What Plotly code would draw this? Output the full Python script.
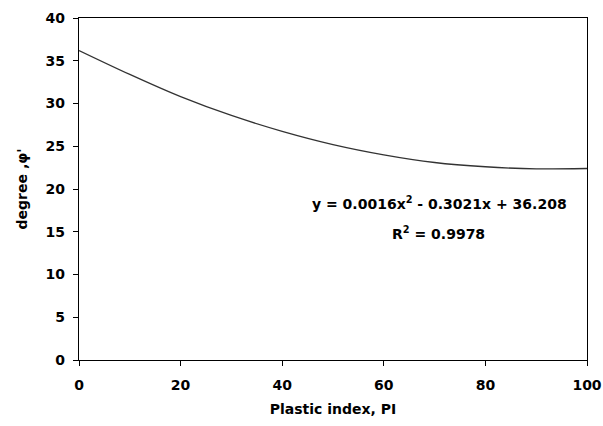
import plotly.graph_objects as go

plastic_index = [0, 10, 20, 30, 40, 50, 60, 70, 80, 90, 100]
phi_degree = [36.2, 33.4, 30.8, 28.6, 26.75, 25.2, 24.0, 23.1, 22.6, 22.35, 22.4]
x_ticks = [0, 20, 40, 60, 80, 100]
y_ticks = [0, 5, 10, 15, 20, 25, 30, 35, 40]
equation_line = "<b>y = 0.0016x<sup>2</sup> - 0.3021x + 36.208</b>"
r2_line = "<b>R<sup>2</sup> = 0.9978</b>"

font_family = "DejaVu Sans, sans-serif"

fig = go.Figure()
fig.add_trace(go.Scatter(
    x=plastic_index, y=phi_degree, mode="lines",
    line=dict(color="#333333", width=1.3, shape="spline", smoothing=0.8),
    showlegend=False,
))

fig.add_annotation(
    x=71.06, y=18.36, xref="x", yref="y", text=equation_line, showarrow=False,
    font=dict(family=font_family, size=14, color="black"),
)
fig.add_annotation(
    x=70.67, y=14.85, xref="x", yref="y", text=r2_line, showarrow=False,
    font=dict(family=font_family, size=14, color="black"),
)

axis_common = dict(
    showgrid=False, zeroline=False, showline=True, linecolor="black", linewidth=1.3,
    mirror=True, ticks="outside", ticklen=5, tickcolor="black", tickwidth=1.3,
    tickfont=dict(family=font_family, size=14, color="black", weight="bold"),
    automargin=False,
)

fig.update_xaxes(range=[0, 100], tickvals=x_ticks, ticklabelstandoff=7, **axis_common,
                 title=dict(text="<b>Plastic index, PI</b>",
                            font=dict(family=font_family, size=14, color="black"),
                            standoff=12))
fig.update_yaxes(range=[0, 40], tickvals=y_ticks, ticklabelstandoff=5, **axis_common,
                 title=dict(text="<b>degree ,φ'</b>",
                            font=dict(family=font_family, size=14, color="black"),
                            standoff=14))

fig.update_layout(
    width=603, height=426,
    margin=dict(l=79, r=16, t=18, b=66),
    paper_bgcolor="white", plot_bgcolor="white",
    font=dict(family=font_family, color="black"),
)

fig.write_html("out.html")
